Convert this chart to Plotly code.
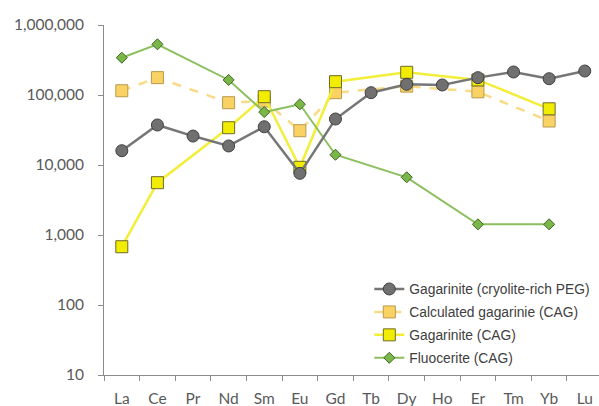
import plotly.graph_objects as go

# Rare earth elements, in order along the x axis
elements = ["La", "Ce", "Pr", "Nd", "Sm", "Eu", "Gd", "Tb", "Dy", "Ho", "Er", "Tm", "Yb", "Lu"]

# Gagarinite from cryolite-rich pegmatite (all REE)
peg_elems = elements
peg_vals = [16000, 37300, 25900, 18700, 35200, 7600, 45400, 108000, 142000, 139000, 177000, 213000, 171000, 220000]

# Calculated gagarinite (CAG)
calc_elems = ["La", "Ce", "Nd", "Sm", "Eu", "Gd", "Dy", "Er", "Yb"]
calc_vals = [115000, 177000, 77600, 82000, 30900, 108000, 134000, 111000, 42500]

# Gagarinite (CAG)
gag_elems = ["La", "Ce", "Nd", "Sm", "Eu", "Gd", "Dy", "Er", "Yb"]
gag_vals = [680, 5590, 34100, 94600, 9270, 155000, 211000, 164000, 63500]

# Fluocerite (CAG)
fluo_elems = ["La", "Ce", "Nd", "Sm", "Eu", "Gd", "Dy", "Er", "Yb"]
fluo_vals = [341000, 530000, 164000, 57000, 73700, 14000, 6670, 1420, 1420]

y_tickvals = [10, 100, 1000, 10000, 100000, 1000000]
y_ticktext = ["10", "100", "1,000", "10,000", "100,000", "1,000,000"]

fig = go.Figure()

fig.add_trace(go.Scatter(
    x=calc_elems, y=calc_vals, mode="lines+markers",
    name="Calculated gagarinie (CAG)", legendrank=2, legendgroup="b",
    line=dict(color="#F9DA85", width=2.5, dash="dash"),
    marker=dict(symbol="square", size=12, color="#FAD264",
                line=dict(color="#B89A4C", width=1)),
))
fig.add_trace(go.Scatter(
    x=gag_elems, y=gag_vals, mode="lines+markers",
    name="Gagarinite (CAG)", legendrank=3, legendgroup="c",
    line=dict(color="#F2EE3A", width=2.5),
    marker=dict(symbol="square", size=12, color="#F2EC00",
                line=dict(color="#6E6A2A", width=1)),
))
fig.add_trace(go.Scatter(
    x=fluo_elems, y=fluo_vals, mode="lines+markers",
    name="Fluocerite (CAG)", legendrank=4, legendgroup="d",
    line=dict(color="#8CBF5E", width=2),
    marker=dict(symbol="diamond", size=8.5, color="#7AB648",
                line=dict(color="#3E6624", width=1)),
))
fig.add_trace(go.Scatter(
    x=peg_elems, y=peg_vals, mode="lines+markers",
    name="Gagarinite (cryolite-rich PEG)", legendrank=1, legendgroup="a",
    line=dict(color="#767676", width=2.5),
    marker=dict(symbol="circle", size=12, color="#707070",
                line=dict(color="#404040", width=1)),
))

axis_gray = "#8C8C8C"
label_font = dict(family="Lato", size=15.5, color="#595959")

fig.update_layout(
    width=599, height=406,
    margin=dict(l=104, r=0, t=25, b=31),
    paper_bgcolor="white", plot_bgcolor="white",
    showlegend=True,
    legend=dict(
        x=0.536, y=0.29, xanchor="left", yanchor="top",
        font=dict(family="Liberation Sans", size=13.8, color="#404040"),
        bgcolor="rgba(0,0,0,0)", tracegroupgap=2, borderwidth=0,
        traceorder="grouped",
    ),
    xaxis=dict(
        type="category", categoryorder="array", categoryarray=elements,
        range=[-0.5, 13.4], tickson="boundaries",
        showline=True, linecolor=axis_gray, linewidth=1,
        ticks="outside", ticklen=5, tickcolor=axis_gray,
        showgrid=False, zeroline=False,
        tickfont=label_font, ticklabelstandoff=9,
    ),
    yaxis=dict(
        type="log", range=[1, 6],
        tickvals=y_tickvals, ticktext=y_ticktext,
        showline=True, linecolor=axis_gray, linewidth=1,
        ticks="outside", ticklen=5, tickcolor=axis_gray,
        showgrid=False, zeroline=False,
        tickfont=label_font, ticklabelstandoff=11,
    ),
)

fig.write_html("out.html")
